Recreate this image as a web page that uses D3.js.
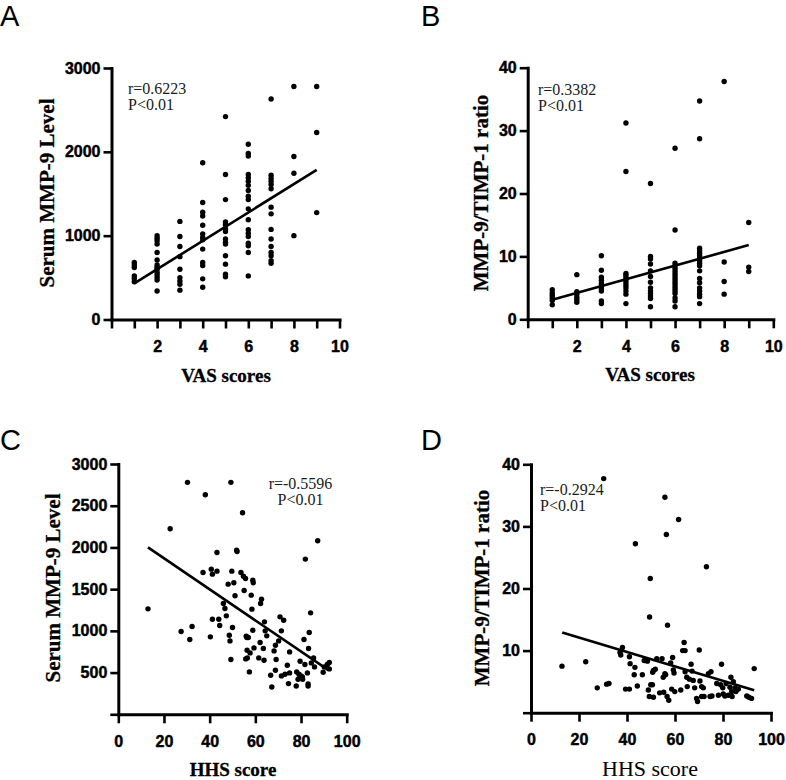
<!DOCTYPE html>
<html><head><meta charset="utf-8">
<script src="https://cdn.jsdelivr.net/npm/d3@7"></script>
<style>body{margin:0;background:#fff}svg{display:block}</style>
</head><body>
<script>
// ---------- DATA ----------
// Panel A: Serum MMP-9 level by VAS score (index 0 -> VAS 1)
const vasScores = [1,2,3,4,5,6,7,8,9];
const aMMP = [
  [680,650,620,520,490,450],
  [1000,970,940,900,800,710,650,620,600,560,530,500,470,340],
  [1170,990,870,750,600,500,460,420,350],
  [1870,1395,1280,1235,1125,1020,980,950,840,680,645,485,385],
  [2420,1730,1430,1165,1130,1080,1050,960,920,900,760,660,540,510],
  [2090,1980,1950,1730,1690,1650,1600,1540,1470,1430,1320,1190,1070,1030,990,910,880,800,520],
  [2630,1720,1685,1650,1610,1560,1340,1260,1075,960,870,800,760,700,670],
  [2780,1945,1745,1000],
  [2780,2230,1275]
];
const aFit = [[1,430],[9,1785]];
// Panel B: MMP-9/TIMP-1 ratio by VAS score
const bRatio = [
  [4.7,4.2,3.8,3.4,3.0,2.3],
  [7.1,4.4,4.0,3.5,3.1,2.7],
  [10.1,7.8,6.7,6.2,5.7,5.3,4.9,4.5,2.9,2.5],
  [31.2,23.5,7.3,7.0,6.6,6.2,5.8,5.4,5.0,4.5,4.0,2.5],
  [21.6,10.0,9.6,8.8,7.7,6.8,5.9,5.0,4.5,4.1,3.7,3.3,2.0],
  [27.2,14.2,8.9,8.5,8.1,7.7,7.3,6.9,6.5,6.1,5.7,5.3,4.9,4.5,4.1,3.4,2.9,2.0],
  [34.7,28.7,11.3,10.9,10.5,10.1,9.7,9.3,8.9,8.5,7.7,6.5,5.8,5.0,4.5,4.0,3.6,2.5],
  [37.8,9.1,6.0,4.0],
  [15.4,8.3,7.6]
];
const bFit = [[1,3.1],[9,11.8]];
// Panel C: Serum MMP-9 vs HHS score
const cHHS = [30.3,49.3,38.1,54.4,22.7,87.3,81.9,43.2,51.8,52,13,37.1,40.7,41.2,43.2,49.7,48.1,50.6,53.7,54.8,55.7,58.9,59.1,55.1,58.2,51.1,46,62.7,62.3,58.5,46.7,47.3,41.2,44,44.4,27.5,32.3,31.3,40.3,48.6,48.9,50,49.3,56,56.3,56.9,58.9,64,64.3,65,62.1,56.4,57.7,59.4,55.8,56.5,61.5,63.8,63.5,57.4,70.8,72.4,71.4,68.8,68.2,69.1,70.2,75,66.7,67.2,68.8,71.4,73,74,74.5,75,77.9,79.1,80,80.6,79.6,81.3,82.8,83.1,83.1,83.3,83.6,84.2,84.5,85.5,85.9,81.7,90.2,91.5,92.4,92.4,89.7,80.7,78.7,78.1];
const cMMP = [2780,2780,2632,2416,2224,2080,1860,1940,1968,1952,1264,1700,1740,1680,1716,1716,1560,1576,1700,1656,1628,1608,1576,1484,1428,1420,1328,1380,1328,1260,1268,1180,1140,1140,1064,992,1052,896,928,948,880,1040,656,936,920,920,1008,1108,1000,940,860,768,736,796,664,676,676,648,788,508,1168,1128,1000,828,760,656,880,748,468,328,528,460,480,588,368,496,340,480,460,448,636,896,496,364,340,788,980,1216,616,676,568,596,568,596,620,544,504,420,420,508];
const cFit = [[13,2000],[92,530]];
// Panel D: MMP-9/TIMP-1 ratio vs HHS score
const dHHS = [30.3,55.8,61.5,56.4,43.5,73.1,49.7,49.4,56.9,12.9,22.8,27.6,31.5,32.5,37.1,38.1,37.4,41,41.3,39.4,41,43,44.3,46.4,47.2,48.5,48.9,49.3,49.9,50.6,50.7,51,51.8,52.4,53.6,54.6,55.1,55.3,55.8,56.1,56.7,57.4,58.2,58.6,59,59.3,59.6,59.9,62.4,63.2,63.8,64.2,64.2,64.9,65.1,66,66.7,67.1,67.6,68.2,69,69.4,70.1,70.4,71.1,71.8,71.1,72.1,73.9,75,74.6,75.4,77.4,78.1,79,79.4,79.9,80.1,80.8,81.3,82.2,82.9,83.3,83.6,83.8,84.3,85,85.4,86.4,89.9,90.8,91.9,93,51,43.3];
const dRatio = [37.7,34.7,31.1,28.7,27.2,23.5,21.6,15.4,14.1,7.5,8.2,4.0,4.6,4.7,9.7,10.5,9.3,9.0,7.9,3.8,3.8,6.1,4.3,6.1,8.4,8.3,3.65,2.6,4.5,4.5,6.5,6.8,7.0,8.7,3.2,8.7,5.7,3.3,6.3,6.1,2.6,2.0,8.0,3.8,8.9,6.9,6.4,3.4,3.65,10.0,11.3,10.0,6.6,5.7,4.2,5.4,7.8,6.7,5.2,4.0,2.3,1.8,10.1,5.1,4.2,4.0,2.6,2.6,6.3,6.6,2.6,2.7,4.7,2.8,4.5,7.8,4.0,3.0,2.7,4.7,2.8,4.1,5.7,3.4,2.6,5.0,4.0,3.4,3.8,2.7,2.5,2.3,7.1,2.5,7.3];
const dFit = [[13,12.9],[93,3.6]];

// Tick values / labels
const vasTicks = [0,1,2,3,4,5,6,7,8,9,10];
const vasTickLabels = [2,4,6,8,10];
const hhsTicks = [0,20,40,60,80,100];
const mmpTicksA = [0,1000,2000,3000];
const mmpTicksC = [0,500,1000,1500,2000,2500,3000];
const mmpLabelsC = [500,1000,1500,2000,2500,3000];
const ratioTicks = [0,10,20,30,40];
const ratioLabelsD = [10,20,30,40];

const panelLetters = ["A","B","C","D"];
const yTitles = ["Serum MMP-9 Level","MMP-9/TIMP-1 ratio","Serum MMP-9 Level","MMP-9/TIMP-1 ratio"];
const xTitles = ["VAS scores","VAS scores","HHS score","HHS score"];
const statR = ["r=0.6223","r=0.3382","r=-0.5596","r=-0.2924"];
const statP = "P<0.01";

// ---------- DRAW ----------
const svg = d3.select("body").append("svg").attr("width",786).attr("height",780);
const SANS = "'Liberation Sans', Arial, Helvetica, sans-serif";
const SERIF = "'Liberation Serif', 'Times New Roman', serif";

function flatten(xs, cols){ const out=[]; cols.forEach((c,i)=>c.forEach(v=>out.push([xs[i],v]))); return out; }
function zip(a,b){ return a.map((v,i)=>[v,b[i]]); }

const panels = [
  {pts: flatten(vasScores,aMMP), fit:aFit, xd:[0,10], xr:[111.5,339.5], yd:[0,3000], yr:[319.5,68],
   xt:vasTicks, xl:vasTickLabels, yt:mmpTicksA, yl:mmpTicksA,
   letter:[0,26], ytitle:[47,193], xtitle:[226,382,true], stat:[128,94,"start"]},
  {pts: flatten(vasScores,bRatio), fit:bFit, xd:[0,10], xr:[527.7,773.3], yd:[0,40], yr:[319.3,67.7],
   xt:vasTicks, xl:vasTickLabels, yt:ratioTicks, yl:ratioTicks,
   letter:[421,26], ytitle:[481,193], xtitle:[650,381,true], stat:[538,95,"start"]},
  {pts: zip(cHHS,cMMP), fit:cFit, xd:[0,100], xr:[118.3,346.7], yd:[0,3000], yr:[714.3,464],
   xt:hhsTicks, xl:hhsTicks, yt:mmpTicksC, yl:mmpLabelsC,
   letter:[0,450], ytitle:[53,588], xtitle:[233,776,true], stat:[300.5,489,"middle"]},
  {pts: zip(dHHS,dRatio), fit:dFit, xd:[0,100], xr:[531,771], yd:[0,40], yr:[712.7,464.3],
   xt:hhsTicks, xl:hhsTicks, yt:ratioTicks, yl:ratioLabelsD,
   letter:[421,450], ytitle:[482,588], xtitle:[650,776,false], stat:[540,495,"start"]}
];

panels.forEach((p,i)=>{
  const x = d3.scaleLinear().domain(p.xd).range(p.xr);
  const y = d3.scaleLinear().domain(p.yd).range(p.yr);
  const g = svg.append("g");

  // y axis
  const ya = g.append("g").attr("transform",`translate(${p.xr[0]},0)`)
    .call(d3.axisLeft(y).tickValues(p.yt).tickSize(8).tickSizeOuter(0).tickPadding(3)
      .tickFormat(d=>p.yl.includes(d)?d:""));
  // x axis
  const xa = g.append("g").attr("transform",`translate(0,${p.yr[0]})`)
    .call(d3.axisBottom(x).tickValues(p.xt).tickSize(9).tickSizeOuter(0).tickPadding(12)
      .tickFormat(d=>p.xl.includes(d)?d:""));
  [ya,xa].forEach(a=>{
    a.select(".domain").attr("stroke","#000").attr("stroke-width",3).attr("stroke-linecap","square");
    a.selectAll(".tick line").attr("stroke","#000").attr("stroke-width",2.6);
    a.selectAll(".tick text").attr("fill","#000").attr("stroke","#000").attr("stroke-width",0.45)
      .style("font-family",SANS).style("font-weight","bold").style("font-size","16px");
  });

  // points
  g.append("g").selectAll("circle").data(p.pts).join("circle")
    .attr("cx",d=>x(d[0])).attr("cy",d=>y(d[1])).attr("r",2.7).attr("fill","#000");

  // regression line
  g.append("line")
    .attr("x1",x(p.fit[0][0])).attr("y1",y(p.fit[0][1]))
    .attr("x2",x(p.fit[1][0])).attr("y2",y(p.fit[1][1]))
    .attr("stroke","#000").attr("stroke-width",2.6);

  // stats
  g.append("text").attr("x",p.stat[0]).attr("y",p.stat[1]).attr("text-anchor",p.stat[2])
    .style("font-family",SERIF).style("font-size","16px").attr("fill","#1a1a1a").text(statR[i]);
  g.append("text").attr("x",p.stat[0]).attr("y",p.stat[1]+16).attr("text-anchor",p.stat[2])
    .style("font-family",SERIF).style("font-size","16px").attr("fill","#1a1a1a").text(statP);

  // titles
  g.append("text").attr("transform",`translate(${p.ytitle[0]},${p.ytitle[1]}) rotate(-90)`)
    .attr("text-anchor","middle").attr("dy","0.35em").attr("stroke","#000").attr("stroke-width",0.3)
    .style("font-family",SERIF).style("font-weight","bold").style("font-size","21px").text(yTitles[i]);
  g.append("text").attr("x",p.xtitle[0]).attr("y",p.xtitle[1]).attr("text-anchor","middle")
    .attr("stroke","#000").attr("stroke-width",p.xtitle[2]?0.3:0)
    .style("font-family",SERIF).style("font-weight",p.xtitle[2]?"bold":"normal")
    .style("font-size",p.xtitle[2]?"19px":"22px").text(xTitles[i]);

  // panel letter
  g.append("text").attr("x",p.letter[0]).attr("y",p.letter[1])
    .style("font-family",SANS).style("font-size","29px").text(panelLetters[i]);
});
</script>
</body></html>
